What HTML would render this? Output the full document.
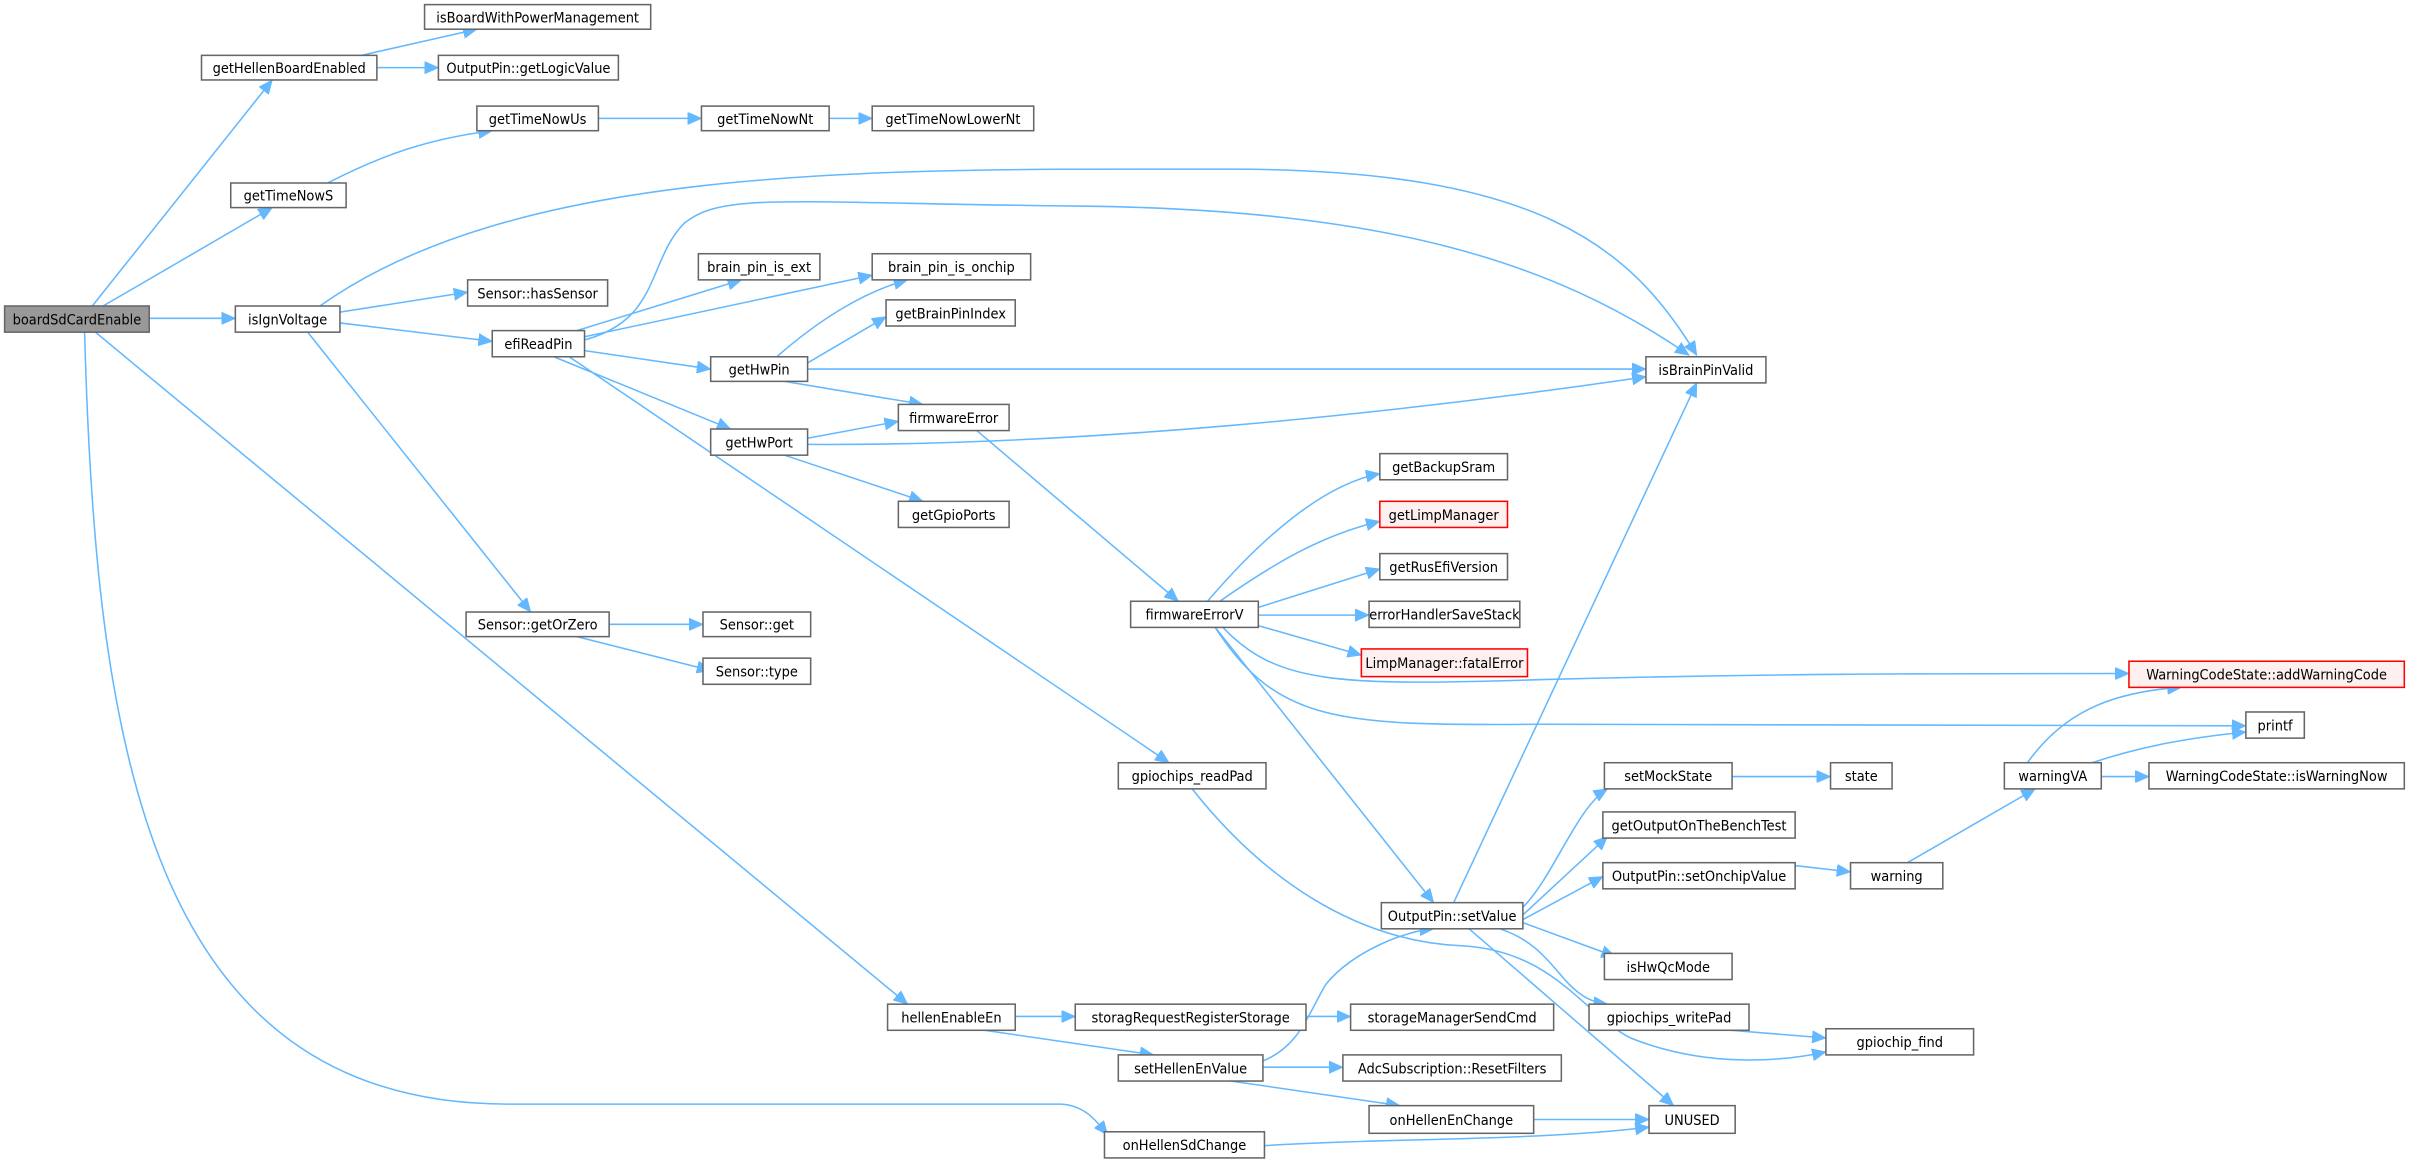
<!DOCTYPE html>
<html><head><meta charset="utf-8"><style>
html,body{margin:0;padding:0;background:#fff;width:2412px;height:1161px;overflow:hidden}
svg{display:block}
text{font-family:"DejaVu Sans Condensed","DejaVu Sans","Liberation Sans",sans-serif;font-size:9.4px;fill:#000;text-anchor:middle}
.n{fill:#fff;stroke:#666;stroke-width:1}
.r{fill:#fff0f0;stroke:#f00;stroke-width:1}
.g{fill:#999;stroke:#666;stroke-width:1}
.e{fill:none;stroke:#63b8ff;stroke-width:1;marker-end:url(#a)}
</style></head><body>
<svg width="2412" height="1161" viewBox="0 0 1568 755" preserveAspectRatio="none" xmlns="http://www.w3.org/2000/svg">
<defs><marker id="a" markerUnits="userSpaceOnUse" markerWidth="10" markerHeight="8" refX="9" refY="4" orient="auto"><path d="M0,0 L9,4 L0,8 z" fill="#63b8ff" stroke="#63b8ff" stroke-width="0.5"/></marker></defs>

<!-- edges -->
<path class="e" d="M60,199 L177,52"/>
<path class="e" d="M67,199 L177,135"/>
<path class="e" d="M97,207 L153,207"/>
<path class="e" d="M62,216 L590,653"/>
<path class="e" d="M55,216 C62,480 95,718 330,718 L690,718 C705,719 712,728 720,738"/>
<path class="e" d="M235,36 L310,19"/>
<path class="e" d="M245,44 L285,44"/>
<path class="e" d="M213,119 C250,100 280,90 320,85"/>
<path class="e" d="M389,77 L456,77"/>
<path class="e" d="M539,77 L567,77"/>
<path class="e" d="M208,199 C340,105 580,110 800,110 C1000,110 1060,160 1103,231"/>
<path class="e" d="M221,203 L304,190"/>
<path class="e" d="M221,210 L320,222"/>
<path class="e" d="M200,216 L345,398"/>
<path class="e" d="M396,406 L457,406"/>
<path class="e" d="M375,414 L462,436"/>
<path class="e" d="M375,215 L482,182"/>
<path class="e" d="M380,219 L567,179"/>
<path class="e" d="M376,222 C430,210 420,170 445,145 C470,125 510,132 700,134 C900,136 1010,170 1098,231"/>
<path class="e" d="M380,228 L462,240"/>
<path class="e" d="M360,232 L475,279"/>
<path class="e" d="M370,232 L760,496"/>
<path class="e" d="M505,232 C530,210 560,190 590,182"/>
<path class="e" d="M525,236 L576,206"/>
<path class="e" d="M525,240 L1070,240"/>
<path class="e" d="M510,248 L600,263"/>
<path class="e" d="M525,285 L584,274"/>
<path class="e" d="M525,289 C700,290 900,270 1070,245"/>
<path class="e" d="M510,296 L600,326"/>
<path class="e" d="M635,280 L766,391"/>
<path class="e" d="M785,391 C820,350 860,315 897,308"/>
<path class="e" d="M793,391 C830,365 860,348 897,339"/>
<path class="e" d="M818,395 L897,370"/>
<path class="e" d="M818,400 L890,400"/>
<path class="e" d="M815,406 L885,426"/>
<path class="e" d="M795,408 C830,445 870,446 1000,442 C1150,438 1250,438 1384,438"/>
<path class="e" d="M790,408 C830,470 870,472 1000,471 L1460,472"/>
<path class="e" d="M790,408 L932,587"/>
<path class="e" d="M945,587 L1103,249"/>
<path class="e" d="M990,590 C1010,570 1025,525 1045,513"/>
<path class="e" d="M990,595 L1045,544"/>
<path class="e" d="M990,598 L1042,570"/>
<path class="e" d="M990,600 L1050,622"/>
<path class="e" d="M975,604 C1000,612 1010,630 1020,640 C1028,648 1035,652 1045,653"/>
<path class="e" d="M955,604 L1088,719"/>
<path class="e" d="M1126,505 L1190,505"/>
<path class="e" d="M1150,561 L1203,567"/>
<path class="e" d="M1240,561 L1323,513"/>
<path class="e" d="M1318,496 C1340,465 1370,450 1418,447"/>
<path class="e" d="M1360,496 C1390,486 1420,480 1460,476"/>
<path class="e" d="M1366,505 L1397,505"/>
<path class="e" d="M1125,670 L1187,675"/>
<path class="e" d="M775,513 C820,570 880,612 950,615 C1010,618 1030,660 1060,675 C1110,695 1160,690 1187,684"/>
<path class="e" d="M660,661 L699,661"/>
<path class="e" d="M640,670 L750,686"/>
<path class="e" d="M849,661 L878,661"/>
<path class="e" d="M821,690 C845,680 850,660 862,640 C880,618 915,605 932,604"/>
<path class="e" d="M821,694 L873,694"/>
<path class="e" d="M800,703 L910,719"/>
<path class="e" d="M997,728 L1072,728"/>
<path class="e" d="M822,745 C900,740 1000,742 1072,733"/>

<!-- nodes -->
<rect class="g" x="3" y="199" width="94" height="17"/><text x="50" y="211">boardSdCardEnable</text>
<rect class="n" x="131" y="36" width="114" height="16"/><text x="188" y="47.5">getHellenBoardEnabled</text>
<rect class="n" x="276" y="3" width="147" height="16"/><text x="349.5" y="14.5">isBoardWithPowerManagement</text>
<rect class="n" x="285" y="36" width="117" height="16"/><text x="343.5" y="47.5">OutputPin::getLogicValue</text>
<rect class="n" x="310" y="69" width="79" height="16"/><text x="349.5" y="80.5">getTimeNowUs</text>
<rect class="n" x="456" y="69" width="83" height="16"/><text x="497.5" y="80.5">getTimeNowNt</text>
<rect class="n" x="567" y="69" width="105" height="16"/><text x="619.5" y="80.5">getTimeNowLowerNt</text>
<rect class="n" x="150" y="119" width="75" height="16"/><text x="187.5" y="130.5">getTimeNowS</text>
<rect class="n" x="153" y="199" width="68" height="17"/><text x="187" y="211">isIgnVoltage</text>
<rect class="n" x="304" y="182" width="91" height="17"/><text x="349.5" y="194">Sensor::hasSensor</text>
<rect class="n" x="320" y="215" width="60" height="17"/><text x="350" y="227">efiReadPin</text>
<rect class="n" x="454" y="165" width="79" height="17"/><text x="493.5" y="177">brain_pin_is_ext</text>
<rect class="n" x="567" y="165" width="103" height="17"/><text x="618.5" y="177">brain_pin_is_onchip</text>
<rect class="n" x="576" y="195" width="84" height="17"/><text x="618" y="207">getBrainPinIndex</text>
<rect class="n" x="462" y="232" width="63" height="16"/><text x="493.5" y="243.5">getHwPin</text>
<rect class="n" x="1070" y="232" width="78" height="17"/><text x="1109" y="244">isBrainPinValid</text>
<rect class="n" x="584" y="263" width="72" height="17"/><text x="620" y="275">firmwareError</text>
<rect class="n" x="462" y="279" width="63" height="17"/><text x="493.5" y="291">getHwPort</text>
<rect class="n" x="584" y="326" width="72" height="17"/><text x="620" y="338">getGpioPorts</text>
<rect class="n" x="897" y="295" width="83" height="17"/><text x="938.5" y="307">getBackupSram</text>
<rect class="r" x="897" y="326" width="83" height="17"/><text x="938.5" y="338">getLimpManager</text>
<rect class="n" x="897" y="360" width="83" height="17"/><text x="938.5" y="372">getRusEfiVersion</text>
<rect class="n" x="890" y="391" width="98" height="17"/><text x="939" y="403">errorHandlerSaveStack</text>
<rect class="r" x="885" y="422" width="108" height="18"/><text x="939" y="434.5">LimpManager::fatalError</text>
<rect class="n" x="735" y="391" width="83" height="17"/><text x="776.5" y="403">firmwareErrorV</text>
<rect class="n" x="303" y="398" width="93" height="16"/><text x="349.5" y="409.5">Sensor::getOrZero</text>
<rect class="n" x="457" y="398" width="70" height="16"/><text x="492" y="409.5">Sensor::get</text>
<rect class="n" x="457" y="428" width="70" height="17"/><text x="492" y="440">Sensor::type</text>
<rect class="r" x="1384" y="430" width="179" height="17"/><text x="1473.5" y="442">WarningCodeState::addWarningCode</text>
<rect class="n" x="1460" y="463" width="38" height="17"/><text x="1479" y="475">printf</text>
<rect class="n" x="1303" y="496" width="63" height="17"/><text x="1334.5" y="508">warningVA</text>
<rect class="n" x="1397" y="496" width="166" height="17"/><text x="1480" y="508">WarningCodeState::isWarningNow</text>
<rect class="n" x="1043" y="496" width="83" height="17"/><text x="1084.5" y="508">setMockState</text>
<rect class="n" x="1190" y="496" width="40" height="17"/><text x="1210" y="508">state</text>
<rect class="n" x="1042" y="528" width="125" height="17"/><text x="1104.5" y="540">getOutputOnTheBenchTest</text>
<rect class="n" x="1203" y="561" width="60" height="17"/><text x="1233" y="573">warning</text>
<rect class="n" x="1042" y="561" width="125" height="17"/><text x="1104.5" y="573">OutputPin::setOnchipValue</text>
<rect class="n" x="898" y="587" width="92" height="17"/><text x="944" y="599">OutputPin::setValue</text>
<rect class="n" x="1043" y="620" width="83" height="17"/><text x="1084.5" y="632">isHwQcMode</text>
<rect class="n" x="1033" y="653" width="104" height="17"/><text x="1085" y="665">gpiochips_writePad</text>
<rect class="n" x="1187" y="669" width="96" height="17"/><text x="1235" y="681">gpiochip_find</text>
<rect class="n" x="1072" y="719" width="56" height="18"/><text x="1100" y="731.5">UNUSED</text>
<rect class="n" x="727" y="496" width="96" height="17"/><text x="775" y="508">gpiochips_readPad</text>
<rect class="n" x="577" y="653" width="83" height="17"/><text x="618.5" y="665">hellenEnableEn</text>
<rect class="n" x="699" y="653" width="150" height="17"/><text x="774" y="665">storagRequestRegisterStorage</text>
<rect class="n" x="878" y="653" width="132" height="17"/><text x="944" y="665">storageManagerSendCmd</text>
<rect class="n" x="727" y="686" width="94" height="17"/><text x="774" y="698">setHellenEnValue</text>
<rect class="n" x="873" y="686" width="142" height="17"/><text x="944" y="698">AdcSubscription::ResetFilters</text>
<rect class="n" x="890" y="719" width="107" height="18"/><text x="943.5" y="731.5">onHellenEnChange</text>
<rect class="n" x="718" y="736" width="104" height="17"/><text x="770" y="748">onHellenSdChange</text>
</svg>
</body></html>
